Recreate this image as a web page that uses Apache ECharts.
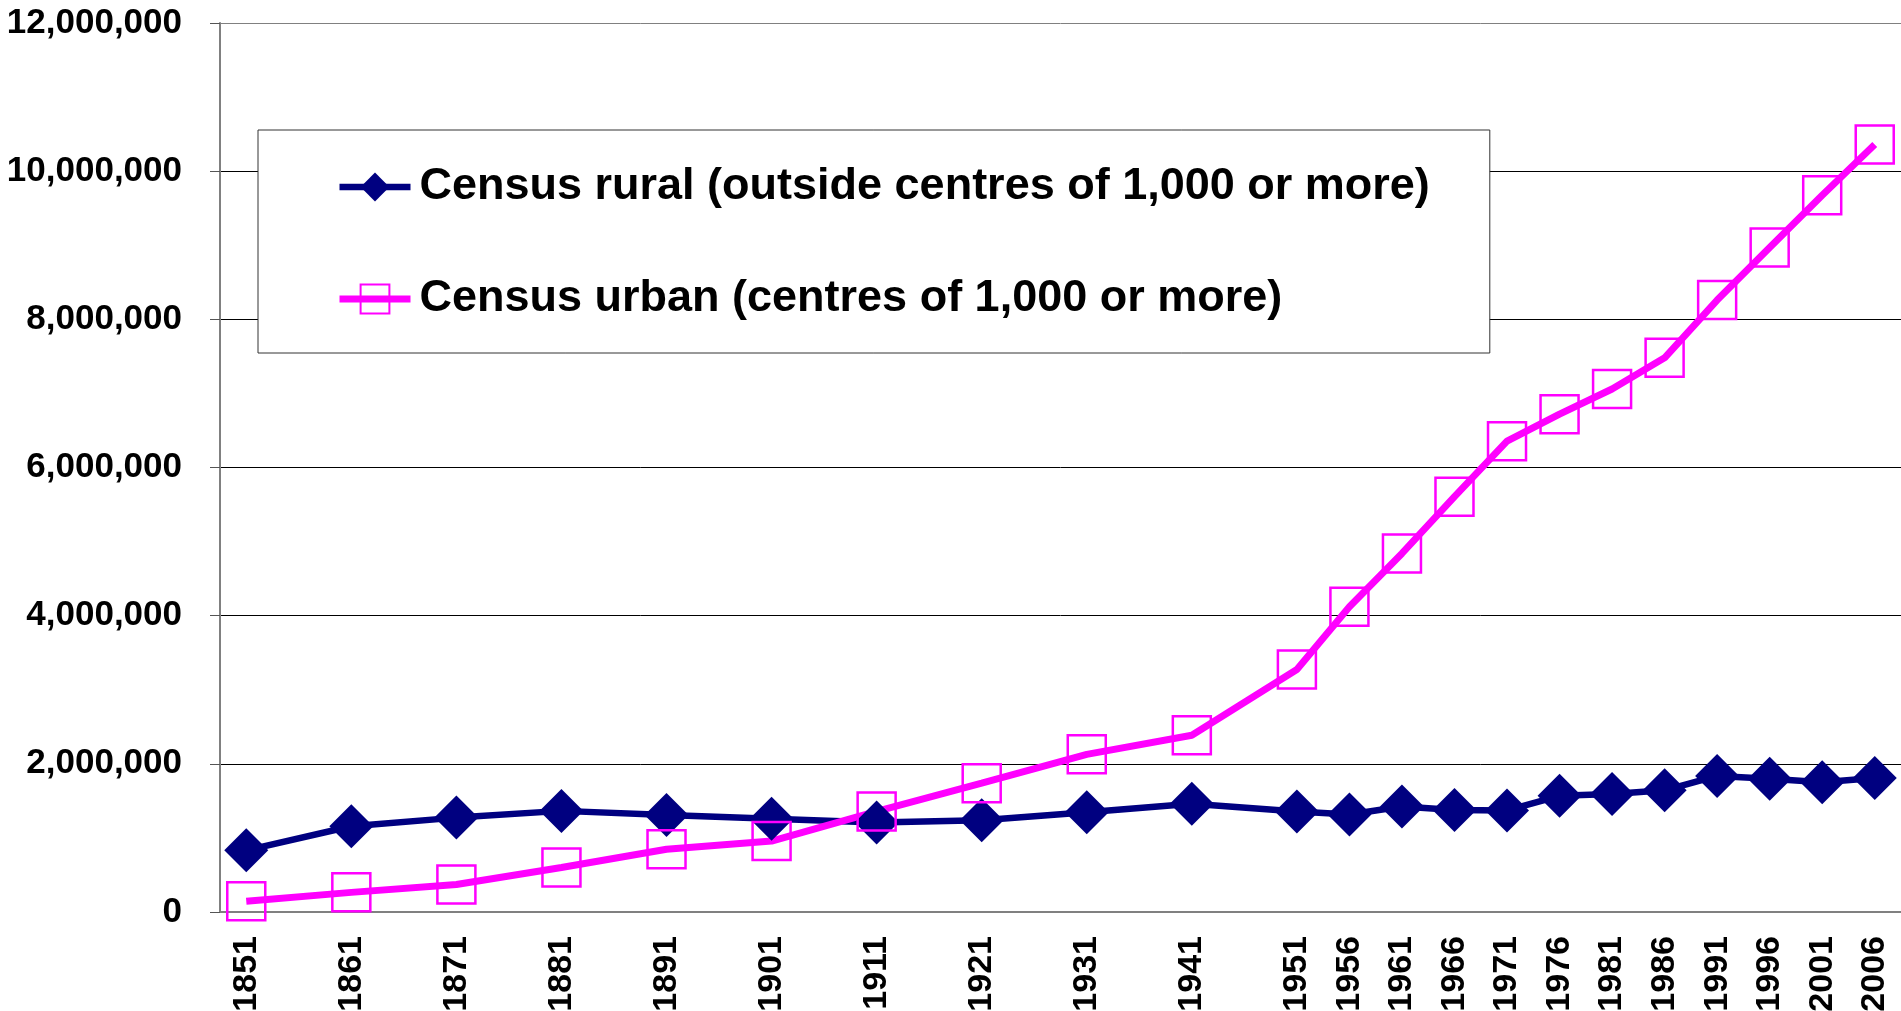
<!DOCTYPE html>
<html>
<head>
<meta charset="utf-8">
<script src="https://cdn.jsdelivr.net/npm/echarts@6/dist/echarts.min.js"></script>
<style>
    html, body { margin: 0; padding: 0; background: #fff; }
    #chart { width: 1901px; height: 1011px; }
</style>
</head>
<body>
<div id="chart"></div>
<script>
// category slots on the axis (every 5 years), only census years get a label
const axisYears = ['1851','1856','1861','1866','1871','1876','1881','1886','1891','1896',
    '1901','1906','1911','1916','1921','1926','1931','1936','1941','1946',
    '1951','1956','1961','1966','1971','1976','1981','1986','1991','1996','2001','2006'];
const censusYears = ['1851','1861','1871','1881','1891','1901','1911','1921','1931','1941',
    '1951','1956','1961','1966','1971','1976','1981','1986','1991','1996','2001','2006'];
const rural = [832000, 1157000, 1274000, 1365000, 1310000, 1258000, 1207000, 1238000, 1346000, 1460000,
    1358000, 1315000, 1425000, 1376000, 1371000, 1569000, 1592000, 1642000, 1836000, 1800000, 1750000, 1810000];
const urban = [145000, 265000, 372000, 600000, 848000, 958000, 1358000, 1738000, 2128000, 2385000,
    3274000, 4120000, 4840000, 5606000, 6356000, 6720000, 7060000, 7480000, 8260000, 8970000, 9675000, 10360000];
const yTicks = [0, 2000000, 4000000, 6000000, 8000000, 10000000, 12000000];

var font = 'Liberation Sans, Arial, sans-serif';
var myChart = echarts.init(document.getElementById('chart'));

var option = {
    animation: false,
    backgroundColor: '#fff',
    grid: {
        left: 220,
        right: 0,
        top: 23,
        bottom: 99,
        outerBoundsMode: 'none'
    },
    legend: {
        orient: 'vertical',
        left: 258,
        top: 130,
        padding: [32, 60, 29, 78],
        itemGap: 62,
        itemWidth: 71,
        itemHeight: 36,
        borderColor: '#333',
        borderWidth: 1,
        backgroundColor: '#fff',
        selectedMode: false,
        lineStyle: { width: 'inherit' },
        textStyle: {
            fontFamily: font,
            fontWeight: 'bold',
            fontSize: 45,
            lineHeight: 50,
            color: '#000',
            padding: [0, 0, 0, 4]
        },
        data: ['Census rural (outside centres of 1,000 or more)', 'Census urban (centres of 1,000 or more)']
    },
    xAxis: {
        type: 'category',
        data: axisYears,
        boundaryGap: true,
        axisLine: { lineStyle: { color: '#808080', width: 2 } },
        axisTick: {
            interval: 0,
            length: 10,
            lineStyle: { color: '#555', width: 1 }
        },
        axisLabel: {
            rotate: 90,
            margin: 24,
            fontFamily: font,
            fontWeight: 'bold',
            fontSize: 34,
            color: '#000',
            interval: function (i) { return censusYears.indexOf(axisYears[i]) >= 0; }
        },
        splitLine: { show: false }
    },
    yAxis: {
        type: 'value',
        min: yTicks[0],
        max: yTicks[yTicks.length - 1],
        interval: yTicks[1] - yTicks[0],
        axisLine: { show: true, lineStyle: { color: '#808080', width: 2 } },
        axisTick: { show: true, length: 10, lineStyle: { color: '#555', width: 1 } },
        axisLabel: {
            margin: 38,
            fontFamily: font,
            fontWeight: 'bold',
            fontSize: 35,
            color: '#000',
            formatter: function (v) { return v.toLocaleString('en-US'); }
        },
        splitLine: {
            lineStyle: {
                color: ['#000', '#000', '#000', '#000', '#000', '#000', '#808080'],
                width: 1
            }
        }
    },
    series: [
        {
            name: 'Census rural (outside centres of 1,000 or more)',
            type: 'line',
            data: censusYears.map(function (y, i) { return [y, rural[i]]; }),
            symbol: 'diamond',
            symbolSize: 44,
            showAllSymbol: true,
            itemStyle: { color: '#000080' },
            lineStyle: { color: '#000080', width: 6.5 }
        },
        {
            name: 'Census urban (centres of 1,000 or more)',
            type: 'line',
            data: censusYears.map(function (y, i) { return [y, urban[i]]; }),
            symbol: 'rect',
            symbolSize: 38,
            showAllSymbol: true,
            itemStyle: { color: 'rgba(0,0,0,0)', borderColor: '#FF00FF', borderWidth: 2.5 },
            lineStyle: { color: '#FF00FF', width: 7 }
        }
    ]
};
myChart.setOption(option);
</script>
</body>
</html>
